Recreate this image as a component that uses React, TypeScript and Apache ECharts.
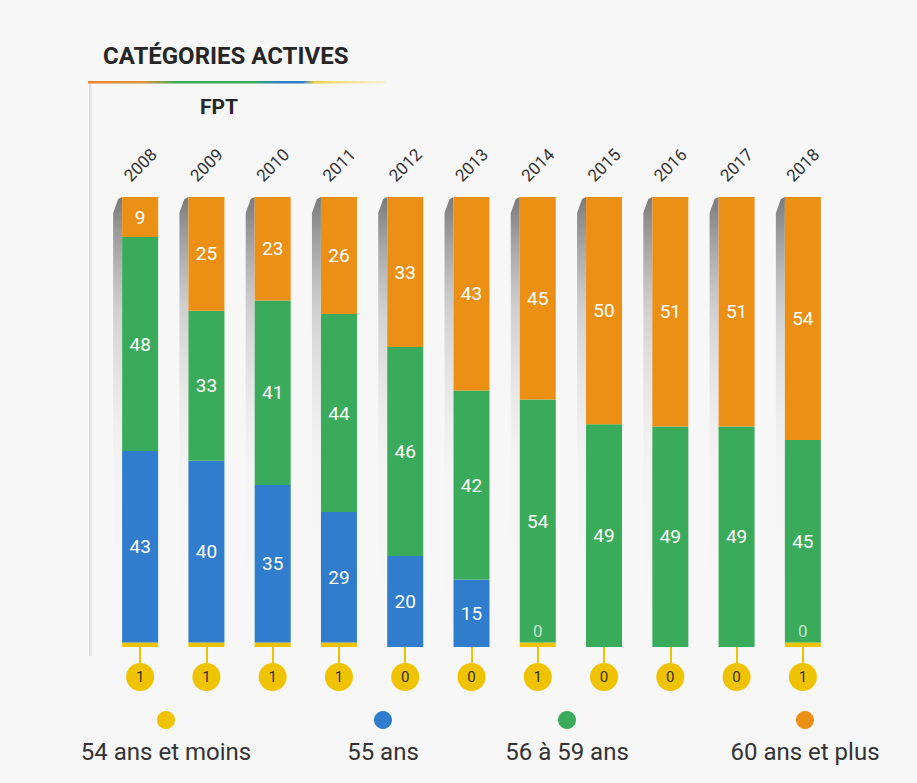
import React, { useEffect, useRef } from "react";
import * as echarts from "echarts";

const years = ["2008", "2009", "2010", "2011", "2012", "2013", "2014", "2015", "2016", "2017", "2018"];
const yellowVals = [1, 1, 1, 1, 0, 0, 1, 0, 0, 0, 1];
const blueVals: (number | null)[] = [43, 40, 35, 29, 20, 15, 0, null, null, null, 0];
const greenVals = [48, 33, 41, 44, 46, 42, 54, 49, 49, 49, 45];
const orangeVals = [9, 25, 23, 26, 33, 43, 45, 50, 51, 51, 54];
const legendNames = ["54 ans et moins", "55 ans", "56 à 59 ans", "60 ans et plus"];

const C_YELLOW = "#f0c300";
const C_BLUE = "#2f7dcc";
const C_GREEN = "#3aab5b";
const C_ORANGE = "#ec9015";
const FONT = "Roboto";

export default function App() {
  const ref = useRef<HTMLDivElement>(null);
  useEffect(() => {
    const chart = echarts.init(ref.current!, null, { renderer: "svg" });
    const totals = years.map((_, i) => yellowVals[i] + (blueVals[i] || 0) + greenVals[i] + orangeVals[i]);
    const norm = (arr: (number | null)[]) => arr.map((v, i) => (v == null ? null : (v / totals[i]) * 100));
    const nY = norm(yellowVals);
    const nB = norm(blueVals);
    const nG = norm(greenVals);
    const nO = norm(orangeVals);

    const labelBase = {
      show: true,
      position: "inside",
      color: "#ffffff",
      fontSize: 19,
      fontFamily: FONT,
    };

    const legendX = [166, 383, 567, 805];
    const legendColors = [C_YELLOW, C_BLUE, C_GREEN, C_ORANGE];

    const graphics: any[] = [
      { type: "rect", z: -10, shape: { x: 0, y: 0, width: 917, height: 783 }, style: { fill: "#f7f7f7" } },
      {
        type: "rect", z: -9, shape: { x: 89, y: 84, width: 3, height: 572 },
        style: { fill: new echarts.graphic.LinearGradient(0, 0, 1, 0, [
          { offset: 0, color: "#d9d9d9" }, { offset: 1, color: "#ececec" }]) },
      },
      {
        type: "text", left: 103, top: 44,
        style: { text: "CATÉGORIES ACTIVES", font: `bold 24px ${FONT}`, fill: "#262626" },
      },
      {
        type: "rect", shape: { x: 88, y: 81, width: 298, height: 2.5 },
        style: { fill: new echarts.graphic.LinearGradient(0, 0, 1, 0, [
          { offset: 0, color: "#e8852a" }, { offset: 0.18, color: "#e0913a" },
          { offset: 0.3, color: "#3aab5b" }, { offset: 0.55, color: "#3aab5b" },
          { offset: 0.65, color: "#2f7dcc" }, { offset: 0.72, color: "#2f7dcc" },
          { offset: 0.76, color: "#f0d040" }, { offset: 1, color: "rgba(240,220,120,0.2)" }]) },
      },
      {
        type: "text", left: 200, top: 96,
        style: { text: "FPT", font: `bold 21px ${FONT}`, fill: "#262626" },
      },
      {
        type: "line", z: -5, shape: { x1: 100, y1: 660, x2: 845, y2: 660 },
        style: { stroke: "#d8d8d8", lineWidth: 2, shadowBlur: 4, shadowColor: "rgba(0,0,0,0.15)", shadowOffsetY: 2 },
      },
    ];
    legendNames.forEach((name, i) => {
      graphics.push({ type: "circle", shape: { cx: legendX[i], cy: 720, r: 9 }, style: { fill: legendColors[i] } });
      graphics.push({
        type: "text", x: legendX[i], y: 752,
        style: { text: name, font: `24px ${FONT}`, fill: "#333333", align: "center", verticalAlign: "middle" },
      });
    });

    const option: any = {
      animation: false,
      backgroundColor: "#f7f7f7",
      grid: { left: 107, right: 81, top: 197, bottom: 136, containLabel: false },
      xAxis: [
        {
          type: "category", data: years, position: "top",
          axisLine: { show: false }, axisTick: { show: false },
          axisLabel: {
            rotate: 45, interval: 0, margin: 32, fontSize: 17, color: "#333", fontFamily: FONT,
            align: "center", verticalAlign: "middle",
          },
        },
        {
          type: "category", data: years, position: "bottom",
          axisLine: { show: false },
          axisTick: { show: true, alignWithLabel: true, interval: 0, length: 16, lineStyle: { color: C_YELLOW, width: 2 } },
          axisLabel: {
            interval: 0, margin: 16,
            formatter: (_v: string, i: number) => `{c|${yellowVals[i]}}`,
            rich: {
              c: {
                backgroundColor: C_YELLOW, borderRadius: 14, width: 28, height: 28, lineHeight: 28,
                align: "center", fontSize: 15, color: "#333", fontFamily: FONT,
              },
            },
          },
        },
      ],
      yAxis: { type: "value", min: 0, max: 100, show: false },
      series: [
        {
          type: "custom", xAxisIndex: 0, z: 1, silent: true,
          data: years.map((_, i) => [i]),
          encode: { x: 0 },
          renderItem: (params: any, api: any) => {
            const idx = api.value(0);
            const top = api.coord([idx, 100]);
            const bot = api.coord([idx, 0]);
            const left = top[0] - 18;
            return {
              type: "polygon",
              shape: { points: [[left - 9, top[1] + 16], [left - 4, top[1] + 2], [left, top[1]], [left, bot[1]], [left - 9, bot[1]]] },
              style: {
                fill: new echarts.graphic.LinearGradient(0, 0, 0, 1, [
                  { offset: 0, color: "rgba(100,100,100,0.85)" },
                  { offset: 0.25, color: "rgba(160,160,160,0.45)" },
                  { offset: 0.6, color: "rgba(220,220,220,0.12)" },
                  { offset: 1, color: "rgba(240,240,240,0)" }]),
              },
            };
          },
        },
        {
          name: legendNames[0], type: "bar", stack: "s", barWidth: 36, z: 3,
          itemStyle: { color: C_YELLOW }, data: nY, label: { show: false },
        },
        {
          name: legendNames[1], type: "bar", stack: "s", barWidth: 36, z: 3,
          itemStyle: { color: C_BLUE },
          data: nB.map((v, i) =>
            blueVals[i] === 0
              ? { value: v, label: { show: true, position: "top", distance: 3, color: "rgba(255,255,255,0.7)", fontSize: 17, fontFamily: FONT, formatter: "0" } }
              : v),
          label: { ...labelBase, formatter: (p: any) => String(blueVals[p.dataIndex]) },
        },
        {
          name: legendNames[2], type: "bar", stack: "s", barWidth: 36, z: 3,
          itemStyle: { color: C_GREEN }, data: nG,
          label: { ...labelBase, formatter: (p: any) => String(greenVals[p.dataIndex]) },
        },
        {
          name: legendNames[3], type: "bar", stack: "s", barWidth: 36, z: 3,
          itemStyle: { color: C_ORANGE }, data: nO,
          label: { ...labelBase, formatter: (p: any) => String(orangeVals[p.dataIndex]) },
        },
      ],
      graphic: graphics,
    };
    chart.setOption(option);
    return () => chart.dispose();
  }, []);
  return <div ref={ref} style={{ position: "absolute", left: 0, top: 0, width: 917, height: 783 }} />;
}
